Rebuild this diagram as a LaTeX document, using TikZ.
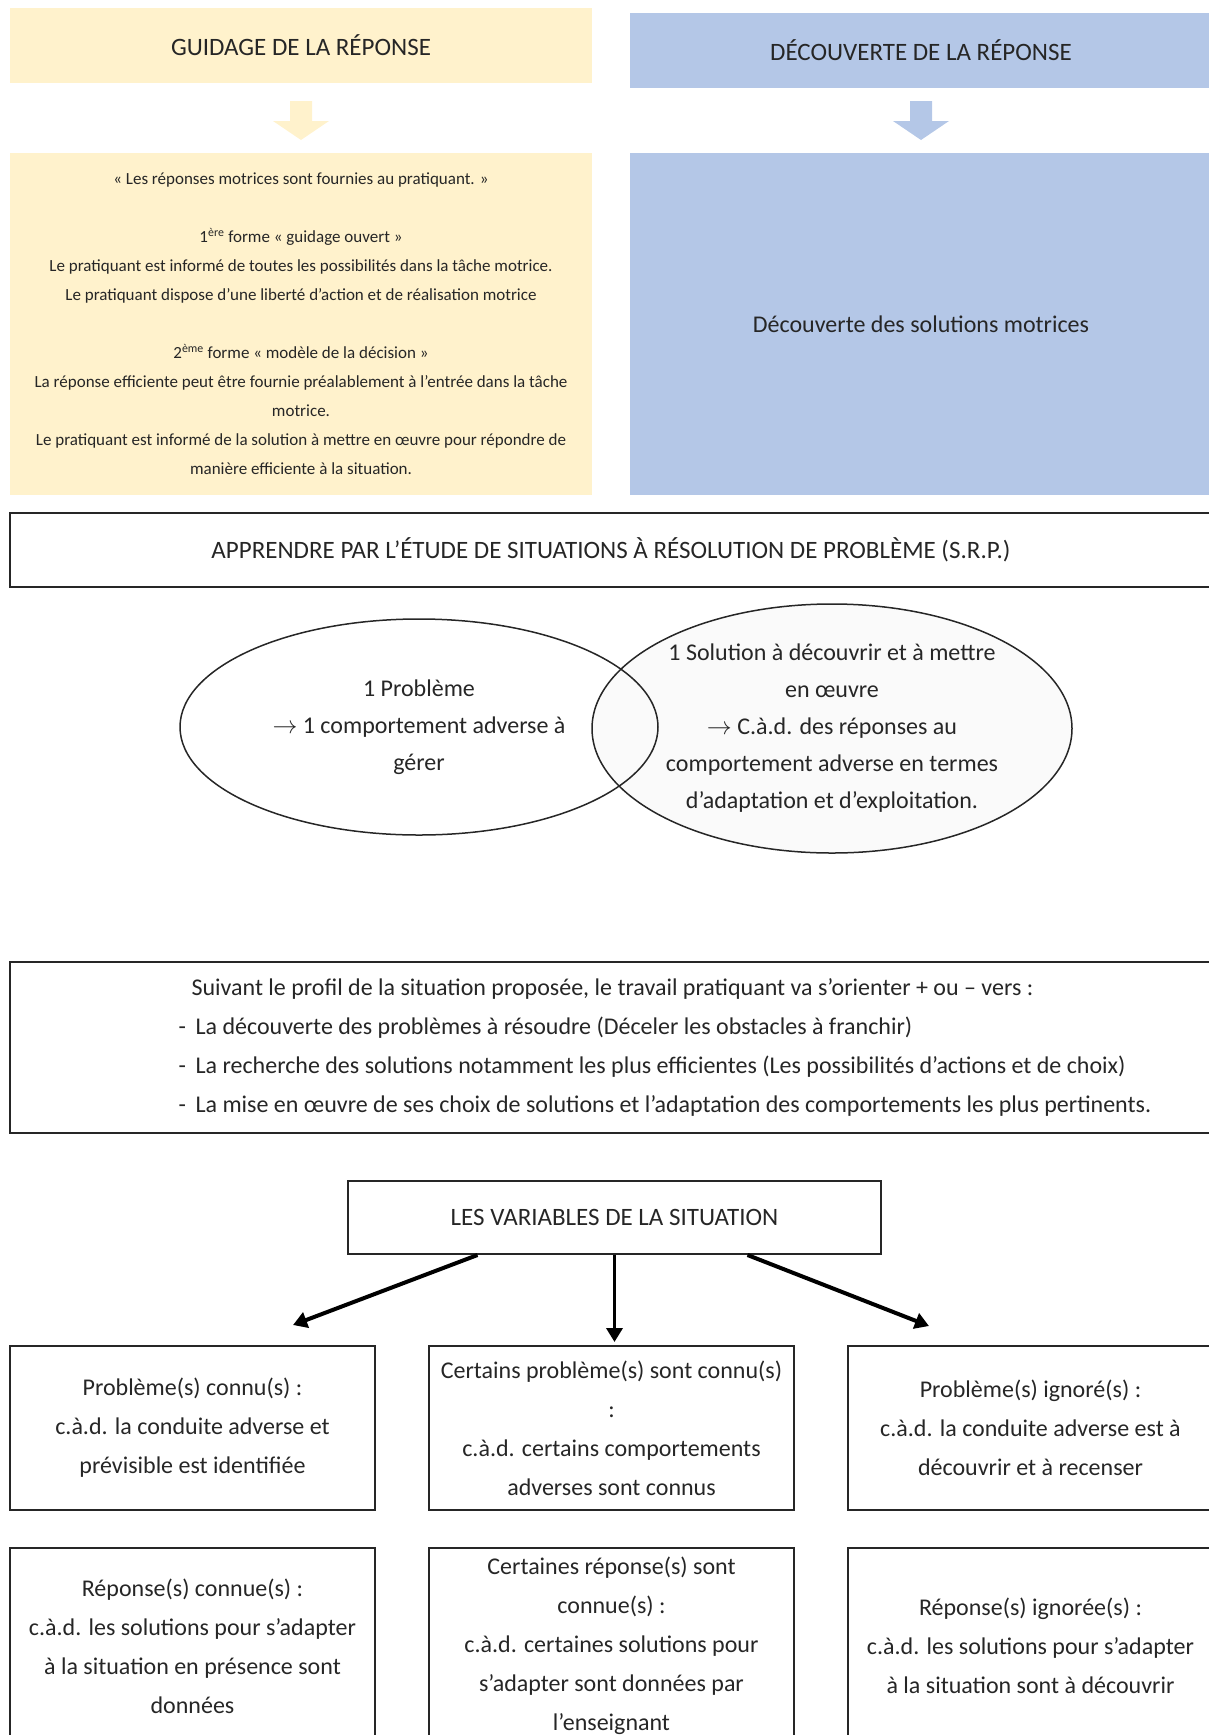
\documentclass[tikz,border=0pt]{standalone}
\usepackage{fontspec}
\setmainfont{Carlito}
\usetikzlibrary{shapes.geometric,arrows.meta}
\definecolor{guideyellow}{HTML}{FFF2CC}
\definecolor{discoblue}{HTML}{B4C7E7}
\definecolor{inkgray}{HTML}{262626}

\begin{document}
\begin{tikzpicture}[x=1pt,y=-1pt,font=\fontsize{24}{39}\selectfont,text=inkgray,
header/.style={minimum width=582pt,minimum height=75pt,inner sep=0pt,font=\fontsize{25}{30}\selectfont},
panel/.style={minimum width=582pt,minimum height=342pt,inner sep=0pt,align=center},
frame/.style={draw=inkgray,line width=2pt,inner sep=0pt,align=center},
varbox/.style={frame,minimum width=365pt},
venn/.style={draw=inkgray,line width=1.5pt,ellipse,inner sep=0pt},
venntext/.style={align=center,font=\fontsize{24}{37}\selectfont},
varrow/.style={draw=black,line width=4pt,-{Triangle[length=14pt,width=16pt]}},
blockarrow/.pic={\fill[#1] (-11,0) -- (11,0) -- (11,20) -- (28,20) -- (0,39) -- (-28,20) -- (-11,20) -- cycle;}]
\useasboundingbox (0,0) rectangle (1209,1735);

\node[header,fill=guideyellow] (guidage) at (301,45.5) {GUIDAGE DE LA RÉPONSE};
\node[header,fill=discoblue] (decouverte) at (921,50.5) {DÉCOUVERTE DE LA RÉPONSE};
\pic at (301,101) {blockarrow=guideyellow};
\pic at (921,101) {blockarrow=discoblue};

\node[panel,fill=guideyellow,font=\fontsize{17}{29}\selectfont] (guidetext) at (301,324) {%
« Les réponses motrices sont fournies au pratiquant. »\\[29pt]
1\textsuperscript{ère} forme « guidage ouvert »\\
Le pratiquant est informé de toutes les possibilités dans la tâche motrice.\\
Le pratiquant dispose d’une liberté d’action et de réalisation motrice\\[29pt]
2\textsuperscript{ème} forme « modèle de la décision »\\
La réponse efficiente peut être fournie préalablement à l’entrée dans la tâche\\
motrice.\\
Le pratiquant est informé de la solution à mettre en œuvre pour répondre de\\
manière efficiente à la situation.};
\node[panel,fill=discoblue] (decouvtext) at (921,324) {Découverte des solutions motrices};

\node[frame,minimum width=1202pt,minimum height=74pt,font=\fontsize{25}{30}\selectfont] (srp) at (611,550)
  {APPRENDRE PAR L’ÉTUDE DE SITUATIONS À RÉSOLUTION DE PROBLÈME (S.R.P.)};

\fill[black!2] (832,728.5) ellipse [x radius=240,y radius=124.5];
\node[venn,minimum width=478pt,minimum height=216pt] (probleme) at (419,727) {};
\node[venn,minimum width=480pt,minimum height=249pt] (solution) at (832,728.5) {};
\node[venntext] at (probleme) {1 Problème\\$\rightarrow$ 1 comportement adverse à\\gérer};
\node[venntext] at (solution) {1 Solution à découvrir et à mettre\\en œuvre\\$\rightarrow$ C.à.d. des réponses au\\comportement adverse en termes\\d’adaptation et d’exploitation.};

\node[frame,minimum width=1202pt,minimum height=171pt] (profil) at (611,1047.5) {};
\node[align=left,anchor=west] (profiltext) at ([xshift=166pt]profil.west) {%
\hspace*{13pt}Suivant le profil de la situation proposée, le travail pratiquant va s’orienter + ou – vers :\\
\makebox[17pt][l]{-}La découverte des problèmes à résoudre (Déceler les obstacles à franchir)\\
\makebox[17pt][l]{-}La recherche des solutions notamment les plus efficientes (Les possibilités d’actions et de choix)\\
\makebox[17pt][l]{-}La mise en œuvre de ses choix de solutions et l’adaptation des comportements les plus pertinents.};

\node[frame,minimum width=533pt,minimum height=73pt,font=\fontsize{25}{30}\selectfont] (variables) at (614.5,1217.5) {LES VARIABLES DE LA SITUATION};

\node[varbox,minimum height=164pt] (connu) at (192.5,1428) {Problème(s) connu(s) :\\c.à.d. la conduite adverse et\\prévisible est identifiée};
\node[varbox,minimum height=164pt] (partiel) at (611.5,1428) {Certains problème(s) sont connu(s)\\:\\c.à.d. certains comportements\\adverses sont connus};
\node[varbox,minimum height=164pt] (ignore) at (1030.5,1428) {Problème(s) ignoré(s) :\\c.à.d. la conduite adverse est à\\découvrir et à recenser};

\node[varbox,minimum height=196pt] (repconnue) at (192.5,1646) {Réponse(s) connue(s) :\\c.à.d. les solutions pour s’adapter\\à la situation en présence sont\\données};
\node[varbox,minimum height=196pt] (reppartielle) at (611.5,1646) {Certaines réponse(s) sont\\connue(s) :\\c.à.d. certaines solutions pour\\s’adapter sont données par\\l’enseignant};
\node[varbox,minimum height=196pt] (repignoree) at (1030.5,1646) {Réponse(s) ignorée(s) :\\c.à.d. les solutions pour s’adapter\\à la situation sont à découvrir};

\coordinate (tipL) at (293,1325);
\coordinate (tipR) at (929,1326);
\draw[varrow] ([xshift=-137pt]variables.south) -- (tipL);
\draw[varrow,line width=3.5pt,shorten >=3pt] (variables.south) -- (variables.south |- partiel.north);
\draw[varrow] ([xshift=133pt]variables.south) -- (tipR);
\end{tikzpicture}
\end{document}
